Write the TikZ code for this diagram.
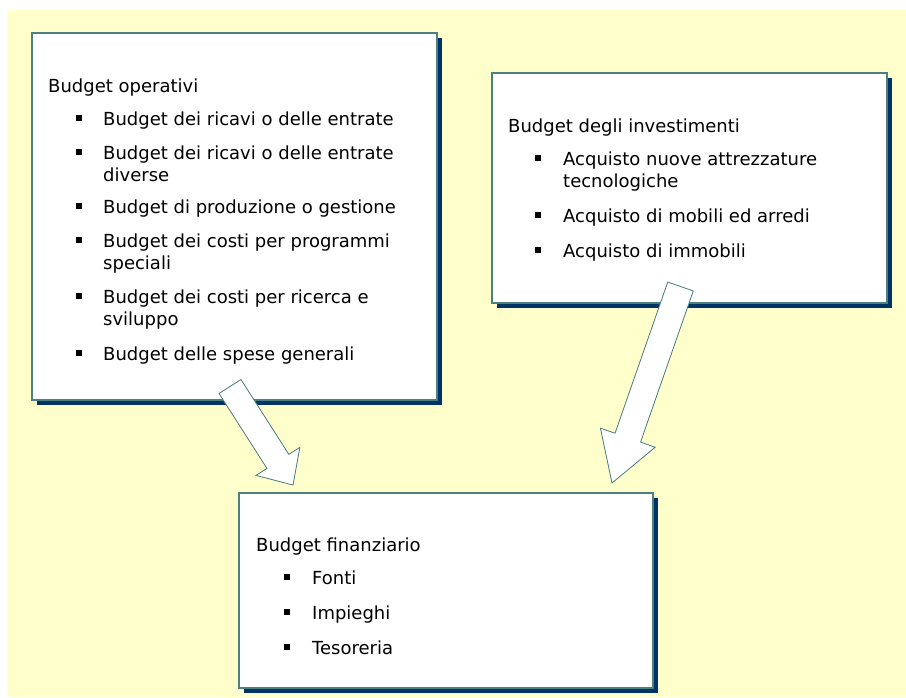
\documentclass[tikz,border=0pt]{standalone}
\usepackage{fontspec}
\setmainfont{DejaVu Sans}
\usetikzlibrary{positioning, calc, shadows}
\definecolor{paper}{HTML}{FFFFCC}
\definecolor{boxline}{HTML}{4F8080}
\definecolor{navy}{HTML}{003366}
\tikzstyle{budgetbox} = [rectangle, draw=boxline, line width=1.2pt, fill=white, drop shadow={shadow xshift=4.5pt, shadow yshift=-4.5pt, fill=navy, opacity=1}]
\tikzstyle{head} = [anchor=base west, inner sep=0pt, font=\fontsize{18}{22}\selectfont]
\tikzstyle{entry} = [anchor=base west, inner sep=0pt, font=\fontsize{18}{22}\selectfont]
\tikzstyle{bul} = [rectangle, fill=black, inner sep=0pt, minimum size=5.5pt]
\newcommand{\twolines}[2]{\begin{tabular}[t]{@{}l@{}}#1\\#2\end{tabular}}
\newcommand{\blockarrow}[5]{% tail, tip, shaft half width, head half width, head length
  \coordinate (hb) at ($(#2)!#5!(#1)$);
  \fill[navy, shift={(2.5,2.5)}] ($(#1)!#3!90:(#2)$) -- ($(hb)!#3!90:(#2)$) -- ($(hb)!#4!90:(#2)$) -- (#2)
    -- ($(hb)!#4!-90:(#2)$) -- ($(hb)!#3!-90:(#2)$) -- ($(#1)!#3!-90:(#2)$) -- cycle;
  \draw[boxline, line width=0.8pt, fill=white] ($(#1)!#3!90:(#2)$) -- ($(hb)!#3!90:(#2)$) -- ($(hb)!#4!90:(#2)$) -- (#2)
    -- ($(hb)!#4!-90:(#2)$) -- ($(hb)!#3!-90:(#2)$) -- ($(#1)!#3!-90:(#2)$) -- cycle;
}

\begin{document}
\begin{tikzpicture}[x=1pt, y=-1pt]
\useasboundingbox (0,0) rectangle (906,697);
\fill[white] (0,0) rectangle (906,697);
\fill[paper] (7,10) rectangle (906,697);

% boxes
\node (oper) [budgetbox, minimum width=405pt, minimum height=367pt] at (234.5,216.5) {};
\node (inv) [budgetbox, minimum width=395pt, minimum height=230pt] at (689.5,188) {};

% Budget operativi
\node (operT) [head] at (48,92) {Budget operativi};
\node (op1) [entry] at (103,125) {Budget dei ricavi o delle entrate};
\node (op2) [entry] at (103,159) {\twolines{Budget dei ricavi o delle entrate}{diverse}};
\node (op3) [entry] at (103,213) {Budget di produzione o gestione};
\node (op4) [entry] at (103,247) {\twolines{Budget dei costi per programmi}{speciali}};
\node (op5) [entry] at (103,303) {\twolines{Budget dei costi per ricerca e}{sviluppo}};
\node (op6) [entry] at (103,360) {Budget delle spese generali};
\foreach \i in {1,...,6}
  \node (opB\i) [bul] at ([xshift=-24pt, yshift=7pt]op\i.base west) {};

% Budget degli investimenti
\node (invT) [head] at (508,132) {Budget degli investimenti};
\node (inv1) [entry] at (563,165) {\twolines{Acquisto nuove attrezzature}{tecnologiche}};
\node (inv2) [entry] at (563,222) {Acquisto di mobili ed arredi};
\node (inv3) [entry] at (563,257) {Acquisto di immobili};
\foreach \i in {1,2,3}
  \node (invB\i) [bul] at ([xshift=-25pt, yshift=7pt]inv\i.base west) {};

% arrows
\coordinate (opTail) at (230,386.5);
\coordinate (opTip) at (293,485);
\coordinate (invTail) at (680.5,286.5);
\coordinate (invTip) at (612,483);
\blockarrow{opTail}{opTip}{13pt}{26pt}{28pt}
\blockarrow{invTail}{invTip}{13.5pt}{29pt}{48pt}

% Budget finanziario
\node (fin) [budgetbox, minimum width=414pt, minimum height=195pt] at (446,590.5) {};
\node (finT) [head] at (256,551) {Budget finanziario};
\node (fin1) [entry] at (312,584) {Fonti};
\node (fin2) [entry] at (312,619) {Impieghi};
\node (fin3) [entry] at (312,654) {Tesoreria};
\foreach \i in {1,2,3}
  \node (finB\i) [bul] at ([xshift=-25pt, yshift=7pt]fin\i.base west) {};

\end{tikzpicture}
\end{document}
